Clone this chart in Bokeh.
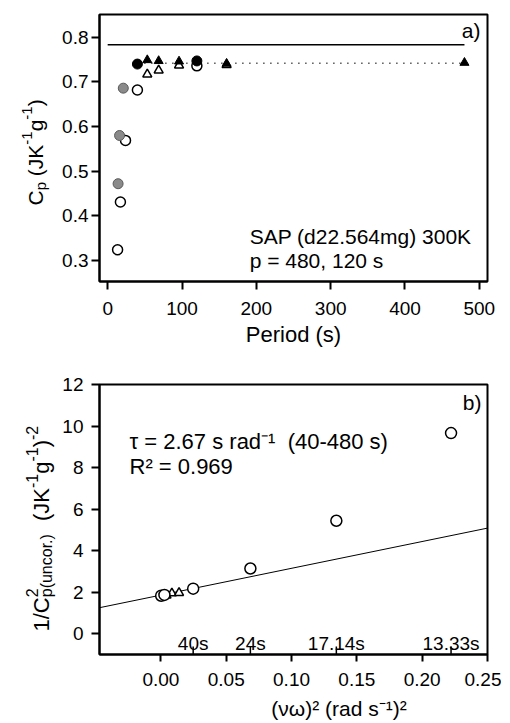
from math import pi
from bokeh.plotting import figure
from bokeh.models import Range1d, FixedTicker, NumeralTickFormatter, Label
from bokeh.layouts import column, row
from bokeh.embed import file_html
from bokeh.resources import INLINE

FONT = "Liberation Sans"

# ---------------- Panel a data ----------------
a_open_circ_period = [13.33, 17.14, 24, 40, 120]
a_open_circ_cp = [0.324, 0.431, 0.569, 0.682, 0.736]
a_grey_circ_period = [14, 16, 21]
a_grey_circ_cp = [0.472, 0.580, 0.686]
a_fill_circ_period = [40, 120]
a_fill_circ_cp = [0.740, 0.747]
a_fill_tri_period = [53.3, 68.6, 96, 160, 480]
a_fill_tri_cp = [0.749, 0.747, 0.746, 0.741, 0.743]
a_open_tri_period = [53.3, 68.6, 96, 160]
a_open_tri_cp = [0.717, 0.726, 0.737, 0.738]
a_ref_line_period = [0, 480]
a_ref_line_cp = [0.783, 0.783]
a_dot_line_period = [40, 480]
a_dot_line_cp = [0.742, 0.742]
a_xticks = [0, 100, 200, 300, 400, 500]
a_yticks = [0.3, 0.4, 0.5, 0.6, 0.7, 0.8]

# ---------------- Panel b data ----------------
b_circ_x = [0.0002, 0.0027, 0.0247, 0.0685, 0.1343, 0.2221]
b_circ_y = [1.83, 1.87, 2.17, 3.14, 5.44, 9.66]
b_tri_x = [0.0015, 0.0043, 0.0084, 0.0139]
b_tri_y = [1.84, 1.84, 1.95, 1.97]
b_fit_intercept = 1.86
b_fit_slope = 12.9
b_sec_ticks = [0.0247, 0.0685, 0.1343, 0.2221]
b_sec_labels = ["40s", "24s", "17.14s", "13.33s"]
b_xticks = [0.0, 0.05, 0.10, 0.15, 0.20, 0.25]
b_yticks = [0, 2, 4, 6, 8, 10, 12]

NB = "\u00a0"

# Arial / Liberation Sans advance widths (em)
CW = {'0': .556, '1': .556, '2': .556, '3': .556, '4': .556, '5': .556, '6': .556,
      '7': .556, '8': .556, '9': .556, '/': .278, 'C': .722, 'p': .556, '(': .333,
      ')': .333, 'u': .556, 'n': .556, 'c': .5, 'o': .556, 'r': .333, '.': .278,
      ' ': .278, NB: .278, 'J': .5, 'K': .667, 'g': .556, '-': .333}


def tw(txt, size):
    return sum(CW.get(ch, .556) for ch in txt) * size


def blank(w, h):
    f = figure(width=w, height=h, x_range=Range1d(0, w), y_range=Range1d(0, h),
               output_backend="svg", toolbar_location=None,
               x_axis_location=None, y_axis_location=None,
               min_border_left=0, min_border_right=0, min_border_top=0, min_border_bottom=0)
    f.grid.visible = False
    f.outline_line_color = None
    f.background_fill_color = "white"
    f.border_fill_color = "white"
    return f


def vlabel(fig, pieces, x_base, y_start):
    y = y_start
    for txt, size, shift, adv in pieces:
        fig.add_layout(Label(x=x_base + shift, y=y, x_units="screen", y_units="screen",
                             text=txt, angle=pi / 2, text_font=FONT,
                             text_font_size=f"{size}px", text_color="black",
                             text_align="left", text_baseline="alphabetic"))
        if adv:
            y += tw(txt, size)


def style(fig):
    fig.xgrid.visible = False
    fig.ygrid.visible = False
    fig.outline_line_color = "black"
    fig.outline_line_width = 2
    fig.outline_line_alpha = 1
    fig.background_fill_color = "white"
    fig.border_fill_color = "white"
    for ax in (fig.xaxis[0], fig.yaxis[0]):
        ax.axis_line_width = 2
        ax.axis_line_color = "black"
        ax.major_tick_line_width = 2
        ax.major_tick_line_color = "black"
        ax.major_tick_in = 0
        ax.minor_tick_line_color = None
        ax.major_label_text_font = FONT
        ax.major_label_text_font_size = "19px"
        ax.major_label_text_color = "black"


LEFT_W = 58

# ================= Panel a =================
pa = figure(width=501 - LEFT_W, height=349, x_range=Range1d(-11, 511),
            y_range=Range1d(0.253, 0.851), output_backend="svg", toolbar_location=None,
            min_border_left=99 - LEFT_W, min_border_right=14, min_border_top=14,
            min_border_bottom=67)
style(pa)
pa.xaxis.ticker = FixedTicker(ticks=a_xticks)
pa.yaxis.ticker = FixedTicker(ticks=a_yticks)
pa.yaxis.formatter = NumeralTickFormatter(format="0.0")
pa.xaxis.major_tick_out = 8
pa.yaxis.major_tick_out = 8
pa.xaxis.major_label_standoff = 12
pa.yaxis.major_label_standoff = 3
pa.xaxis.axis_label = "Period (s)"
pa.xaxis.axis_label_text_font = FONT
pa.xaxis.axis_label_text_font_size = "22px"
pa.xaxis.axis_label_text_font_style = "normal"
pa.xaxis.axis_label_text_color = "black"
pa.xaxis.axis_label_standoff = 4

pa.line(a_ref_line_period, a_ref_line_cp, line_color="black", line_width=1.5)
pa.line(a_dot_line_period, a_dot_line_cp, line_color="black", line_width=1.5, line_dash="1 6")
pa.scatter(a_open_tri_period, a_open_tri_cp, marker="triangle", size=9,
           fill_color="white", line_color="black", line_width=1.5)
pa.scatter(a_fill_tri_period, a_fill_tri_cp, marker="triangle", size=9,
           fill_color="black", line_color="black", line_width=1)
pa.scatter(a_open_circ_period, a_open_circ_cp, marker="circle", size=10,
           fill_color="white", line_color="black", line_width=1.5)
pa.scatter(a_grey_circ_period, a_grey_circ_cp, marker="circle", size=10,
           fill_color="#8a8a8a", line_color="#5a5a5a", line_width=1)
pa.scatter(a_fill_circ_period, a_fill_circ_cp, marker="circle", size=10,
           fill_color="black", line_color="black", line_width=1)

pa.add_layout(Label(x=191, y=0.354, text="SAP (d22.564mg) 300K", text_font=FONT,
                    text_font_size="21px", text_color="black", text_baseline="alphabetic"))
pa.add_layout(Label(x=191, y=0.300, text="p = 480, 120 s", text_font=FONT,
                    text_font_size="21px", text_color="black", text_baseline="alphabetic"))
pa.add_layout(Label(x=381, y=251, x_units="screen", y_units="screen", text="a)",
                    text_font=FONT, text_font_size="21px", text_color="black",
                    text_align="right", text_baseline="middle"))

# frame of the helper figure is aligned with the frame of panel a
ya = blank(LEFT_W, 349)
vlabel(ya, [("C", 21, 0, True), ("p", 15, 5, True), (NB + "(JK", 21, 0, True),
            ("-1", 15, -9, True), ("g", 21, 0, True), ("-1", 15, -9, True),
            (")", 21, 0, True)], 35, 76)

# ================= Panel b =================
pb = figure(width=501 - LEFT_W, height=345, x_range=Range1d(-0.047, 0.25),
            y_range=Range1d(-1, 12), output_backend="svg", toolbar_location=None,
            min_border_left=99 - LEFT_W, min_border_right=14, min_border_top=35,
            min_border_bottom=40)
style(pb)
pb.xaxis.ticker = FixedTicker(ticks=b_xticks)
pb.yaxis.ticker = FixedTicker(ticks=b_yticks)
pb.xaxis.formatter = NumeralTickFormatter(format="0.00")
pb.xaxis.major_tick_out = 7
pb.yaxis.major_tick_out = 8
pb.xaxis.major_label_standoff = 11
pb.yaxis.major_label_standoff = 8

xs_fit = [pb.x_range.start, pb.x_range.end]
pb.line(xs_fit, [b_fit_intercept + b_fit_slope * x for x in xs_fit],
        line_color="black", line_width=1)

y0 = pb.y_range.start
unit = (pb.y_range.end - pb.y_range.start) / 270.0
pb.segment(x0=b_sec_ticks, y0=[y0] * len(b_sec_ticks), x1=b_sec_ticks,
           y1=[y0 + 8 * unit] * len(b_sec_ticks), line_color="black", line_width=1.5)
for xt, lab in zip(b_sec_ticks, b_sec_labels):
    pb.add_layout(Label(x=xt, y=y0 + 11 * unit, text=lab, text_font=FONT,
                        text_font_size="19px", text_color="black",
                        text_align="center", text_baseline="alphabetic"))

pb.scatter(b_tri_x, b_tri_y, marker="triangle", size=9,
           fill_color="white", line_color="black", line_width=1.5)
pb.scatter(b_circ_x, b_circ_y, marker="circle", size=11,
           fill_color="white", line_color="black", line_width=1.5)

pb.add_layout(Label(x=30, y=213, x_units="screen", y_units="screen",
                    text="τ = 2.67 s rad⁻¹" + NB + NB + "(40-480 s)", text_font=FONT,
                    text_font_size="22px", text_color="black", text_baseline="alphabetic"))
pb.add_layout(Label(x=30, y=188, x_units="screen", y_units="screen",
                    text="R² = 0.969", text_font=FONT,
                    text_font_size="22px", text_color="black", text_baseline="alphabetic"))
pb.add_layout(Label(x=382, y=252, x_units="screen", y_units="screen", text="b)",
                    text_font=FONT, text_font_size="21px", text_color="black",
                    text_align="right", text_baseline="middle"))

# frame of the helper figure is aligned with the frame of panel b
yb = blank(LEFT_W, 345)
vlabel(yb, [("1/C", 22, 0, True), ("p", 16, 5, False), ("2", 16, -10, True),
            ("(uncor.)", 16, 5, True), (NB + NB + "(JK", 22, 0, True), ("-1", 16, -10, True),
            ("g", 22, 0, True), ("-1", 16, -10, True), (")", 22, 0, True),
            ("-2", 16, -10, True)], 41, 23)

xb = blank(501, 27)
xb.add_layout(Label(x=338.5, y=13, x_units="screen", y_units="screen",
                    text="(νω)² (rad s⁻¹)²", text_font=FONT, text_font_size="21px",
                    text_color="black", text_align="center", text_baseline="middle"))

layout = column(row(ya, pa), row(yb, pb), xb)
open("out.html", "w").write(file_html(layout, INLINE))
